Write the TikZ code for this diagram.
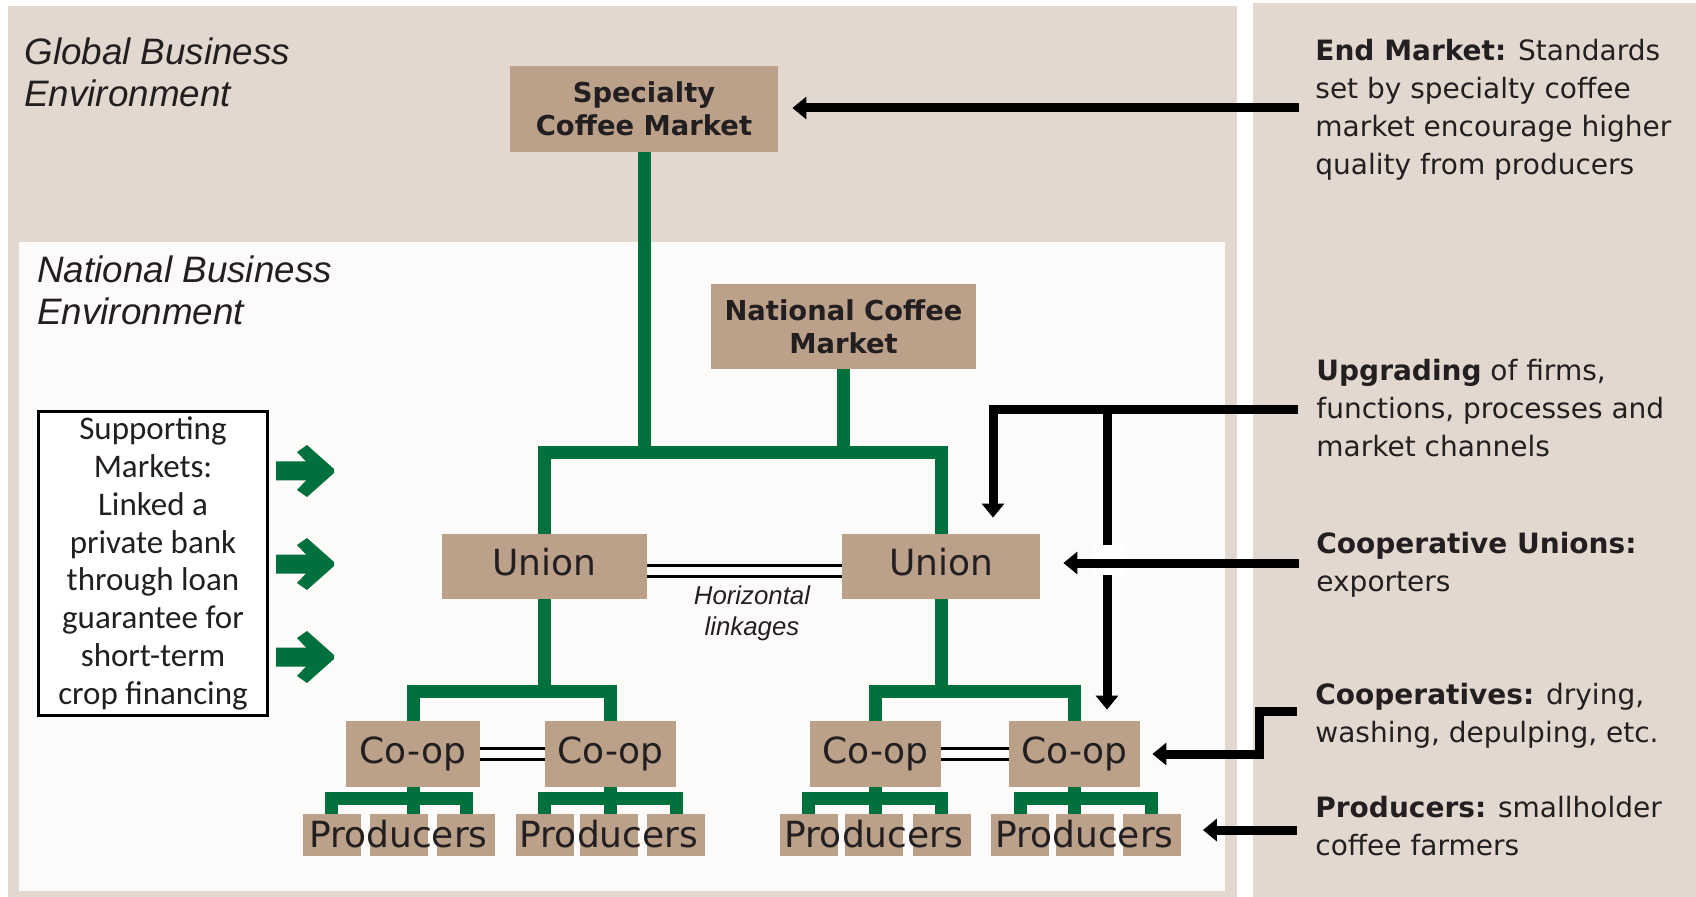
\documentclass[tikz,border=0pt]{standalone}
\usepackage{fontspec}
\usetikzlibrary{arrows.meta}
\newfontfamily\boxfont{DejaVu Sans}
\newfontfamily\envfont{Liberation Sans}
\newfontfamily\suppfont{Carlito}
\definecolor{panel}{HTML}{E2D8CF}
\definecolor{natbg}{HTML}{FCFBF9}
\definecolor{boxtan}{HTML}{BBA08A}
\definecolor{treegreen}{HTML}{00703C}
\definecolor{ink}{HTML}{231F20}
\tikzset{
	box/.style={fill=boxtan, inner sep=0pt, text=ink, font=\boxfont\fontsize{18}{21}\selectfont, text height=13.5pt, text depth=4.5pt},
	market/.style={fill=boxtan, inner sep=0pt, text=ink, align=center, font=\boxfont\bfseries\fontsize{13.7}{16.5}\selectfont},
	prod/.style={fill=boxtan, inner sep=0pt, minimum width=29pt, minimum height=21pt},
	prodtext/.style={inner sep=0pt, text=ink, font=\boxfont\fontsize{18}{21}\selectfont, text height=13.5pt, text depth=1.5pt},
	tree/.style={draw=treegreen, line width=6.5pt},
	link/.style={draw=black, line width=1.35pt, double=natbg, double distance=4.15pt},
	pointer/.style={draw=black, line width=4.5pt, -{Triangle[width=11pt,length=7pt]}},
	note/.style={anchor=base west, inner sep=0pt, align=left, text=ink, font=\boxfont\fontsize{14}{19}\selectfont},
	envlabel/.style={anchor=base west, inner sep=0pt, align=left, text=ink, font=\envfont\itshape\fontsize{18.4}{21}\selectfont},
	hlink/.style={anchor=base, inner sep=0pt, align=center, text=ink, font=\envfont\itshape\fontsize{12.9}{15.5}\selectfont},
	support/.style={draw=black, line width=1.5pt, fill=white, inner sep=0pt, minimum width=114.5pt, minimum height=152pt, align=center, text=ink, font=\suppfont\fontsize{16.5}{18.9}\selectfont}
}
\begin{document}
\begin{tikzpicture}[x=0.5pt,y=-0.5pt]
	\useasboundingbox (0,0) rectangle (1696,897);
	\fill[white] (0,0) rectangle (1696,897);
	\fill[panel] (8,6) rectangle (1237,897);
	\fill[natbg] (19,242) rectangle (1225,891);
	\fill[panel] (1253,3) rectangle (1696,897);
	
	\node[envlabel] (global) at (24,107) {Global Business\\Environment};
	\node[envlabel] (national) at (37,325) {National Business\\Environment};
	
	\node[market, minimum width=134pt, minimum height=43pt] (spec) at (644,109) {Specialty\\Coffee Market};
	\node[market, minimum width=132.5pt, minimum height=42.5pt] (nat) at (843.5,326.5) {National Coffee\\Market};
	
	\node[box, minimum width=102.5pt, minimum height=32.5pt] (ul) at (544.5,566.5) {Union};
	\node[box, minimum width=99pt, minimum height=32.5pt] (ur) at (941,566.5) {Union};
	
	\node[box, minimum width=67pt, minimum height=33pt] (c1) at (413,754) {Co-op};
	\node[box, minimum width=65.5pt, minimum height=33pt] (c2) at (610.5,754) {Co-op};
	\node[box, minimum width=65.5pt, minimum height=33pt] (c3) at (875.5,754) {Co-op};
	\node[box, minimum width=65.5pt, minimum height=33pt] (c4) at (1074.5,754) {Co-op};
	
	\node[prod] (p1a) at (331.5,835) {};
	\node[prod] (p1b) at (398.5,835) {};
	\node[prod] (p1c) at (466,835) {};
	\node[prod] (p2a) at (544.5,835) {};
	\node[prod] (p2b) at (609,835) {};
	\node[prod] (p2c) at (676,835) {};
	\node[prod] (p3a) at (808.5,835) {};
	\node[prod] (p3b) at (874,835) {};
	\node[prod] (p3c) at (941.5,835) {};
	\node[prod] (p4a) at (1020,835) {};
	\node[prod] (p4b) at (1084.5,835) {};
	\node[prod] (p4c) at (1151.5,835) {};
	
	\node[prodtext] (t1) at (p1b) {Producers};
	\node[prodtext] (t2) at (p2b) {Producers};
	\node[prodtext] (t3) at (p3b) {Producers};
	\node[prodtext] (t4) at (p4b) {Producers};
	
	\coordinate (mbar) at (700,453);
	\draw[tree] (ul.north) |- (mbar) -| (ur.north);
	\draw[tree] (spec.south) -- (spec.south |- mbar);
	\draw[tree] (nat.south) -- (nat.south |- mbar);
	
	\coordinate (lbar) at (500,691.5);
	\draw[tree] (c1.north) |- (lbar) -| (c2.north);
	\draw[tree] (ul.south) -- (ul.south |- lbar);
	\coordinate (rbar) at (1000,691.5);
	\draw[tree] (c3.north) |- (rbar) -| (c4.north);
	\draw[tree] (ur.south) -- (ur.south |- rbar);
	
	\coordinate (pbar) at (0,798.5);
	\draw[tree] (p1a.north) -- (p1a.north |- pbar) -| (p1c.north);
	\draw[tree] (c1.south) -- (c1.south |- p1b.north);
	\draw[tree] (p2a.north) -- (p2a.north |- pbar) -| (p2c.north);
	\draw[tree] (c2.south) -- (c2.south |- p2b.north);
	\draw[tree] (p3a.north) -- (p3a.north |- pbar) -| (p3c.north);
	\draw[tree] (c3.south) -- (c3.south |- p3b.north);
	\draw[tree] (p4a.north) -- (p4a.north |- pbar) -| (p4c.north);
	\draw[tree] (c4.south) -- (c4.south |- p4b.north);
	
	\draw[link] ([yshift=-2.25pt]ul.east) -- ([yshift=-2.25pt]ur.west);
	\draw[link] (c1.east) -- (c2.west);
	\draw[link] (c3.east) -- (c4.west);
	\node[hlink] (horiz) at (752,635) {Horizontal\\linkages};
	
	\node[support] (supp) at (153,563.5) {Supporting\\Markets:\\Linked a\\private bank\\through loan\\guarantee for\\short-term\\crop financing};
	\fill[treegreen, shift={(276,471)}] (0,-9.5) -- (30,-9.5) -- (21,-19) -- (31,-26) -- (58,-2) -- (58,2) -- (31,26) -- (21,19) -- (30,9.5) -- (0,9.5) -- cycle;
	\fill[treegreen, shift={(276,564)}] (0,-9.5) -- (30,-9.5) -- (21,-19) -- (31,-26) -- (58,-2) -- (58,2) -- (31,26) -- (21,19) -- (30,9.5) -- (0,9.5) -- cycle;
	\fill[treegreen, shift={(276,657)}] (0,-9.5) -- (30,-9.5) -- (21,-19) -- (31,-26) -- (58,-2) -- (58,2) -- (31,26) -- (21,19) -- (30,9.5) -- (0,9.5) -- cycle;
	
	\node[note] (tend) at (1315,175) {\textbf{End Market:} Standards\\set by specialty coffee\\market encourage higher\\quality from producers};
	\node[note] (tupg) at (1316,457) {\textbf{Upgrading} of firms,\\functions, processes and\\market channels};
	\node[note] (tunion) at (1316,591) {\textbf{Cooperative Unions:}\\exporters};
	\node[note] (tcoop) at (1315,742) {\textbf{Cooperatives:} drying,\\washing, depulping, etc.};
	\node[note] (tprod) at (1315,855) {\textbf{Producers:} smallholder\\coffee farmers};
	
	\coordinate (e1) at (1299,108);
	\draw[pointer, shorten >=7pt] (e1) -- (e1 -| spec.east);
	\coordinate (e2) at (1298,410);
	\draw[pointer, shorten >=8pt] (e2) -| ([xshift=26pt]ur.north);
	\coordinate (e2b) at (1107,410);
	\draw[pointer, shorten >=5.5pt] (e2b) -- (e2b |- c4.north);
	\fill[white] (1093,545) rectangle (1125,575);
	\coordinate (e3) at (1299,563);
	\draw[pointer, shorten >=11.5pt] (e3) -- (e3 -| ur.east);
	\coordinate (e4) at (1297,711);
	\draw[pointer, shorten >=6pt] (e4) -- ++(-37.5,0) |- (c4.east);
	\coordinate (e5) at (1297,830);
	\draw[pointer, shorten >=11pt] (e5) -- (e5 -| p4c.east);
\end{tikzpicture}
\end{document}
